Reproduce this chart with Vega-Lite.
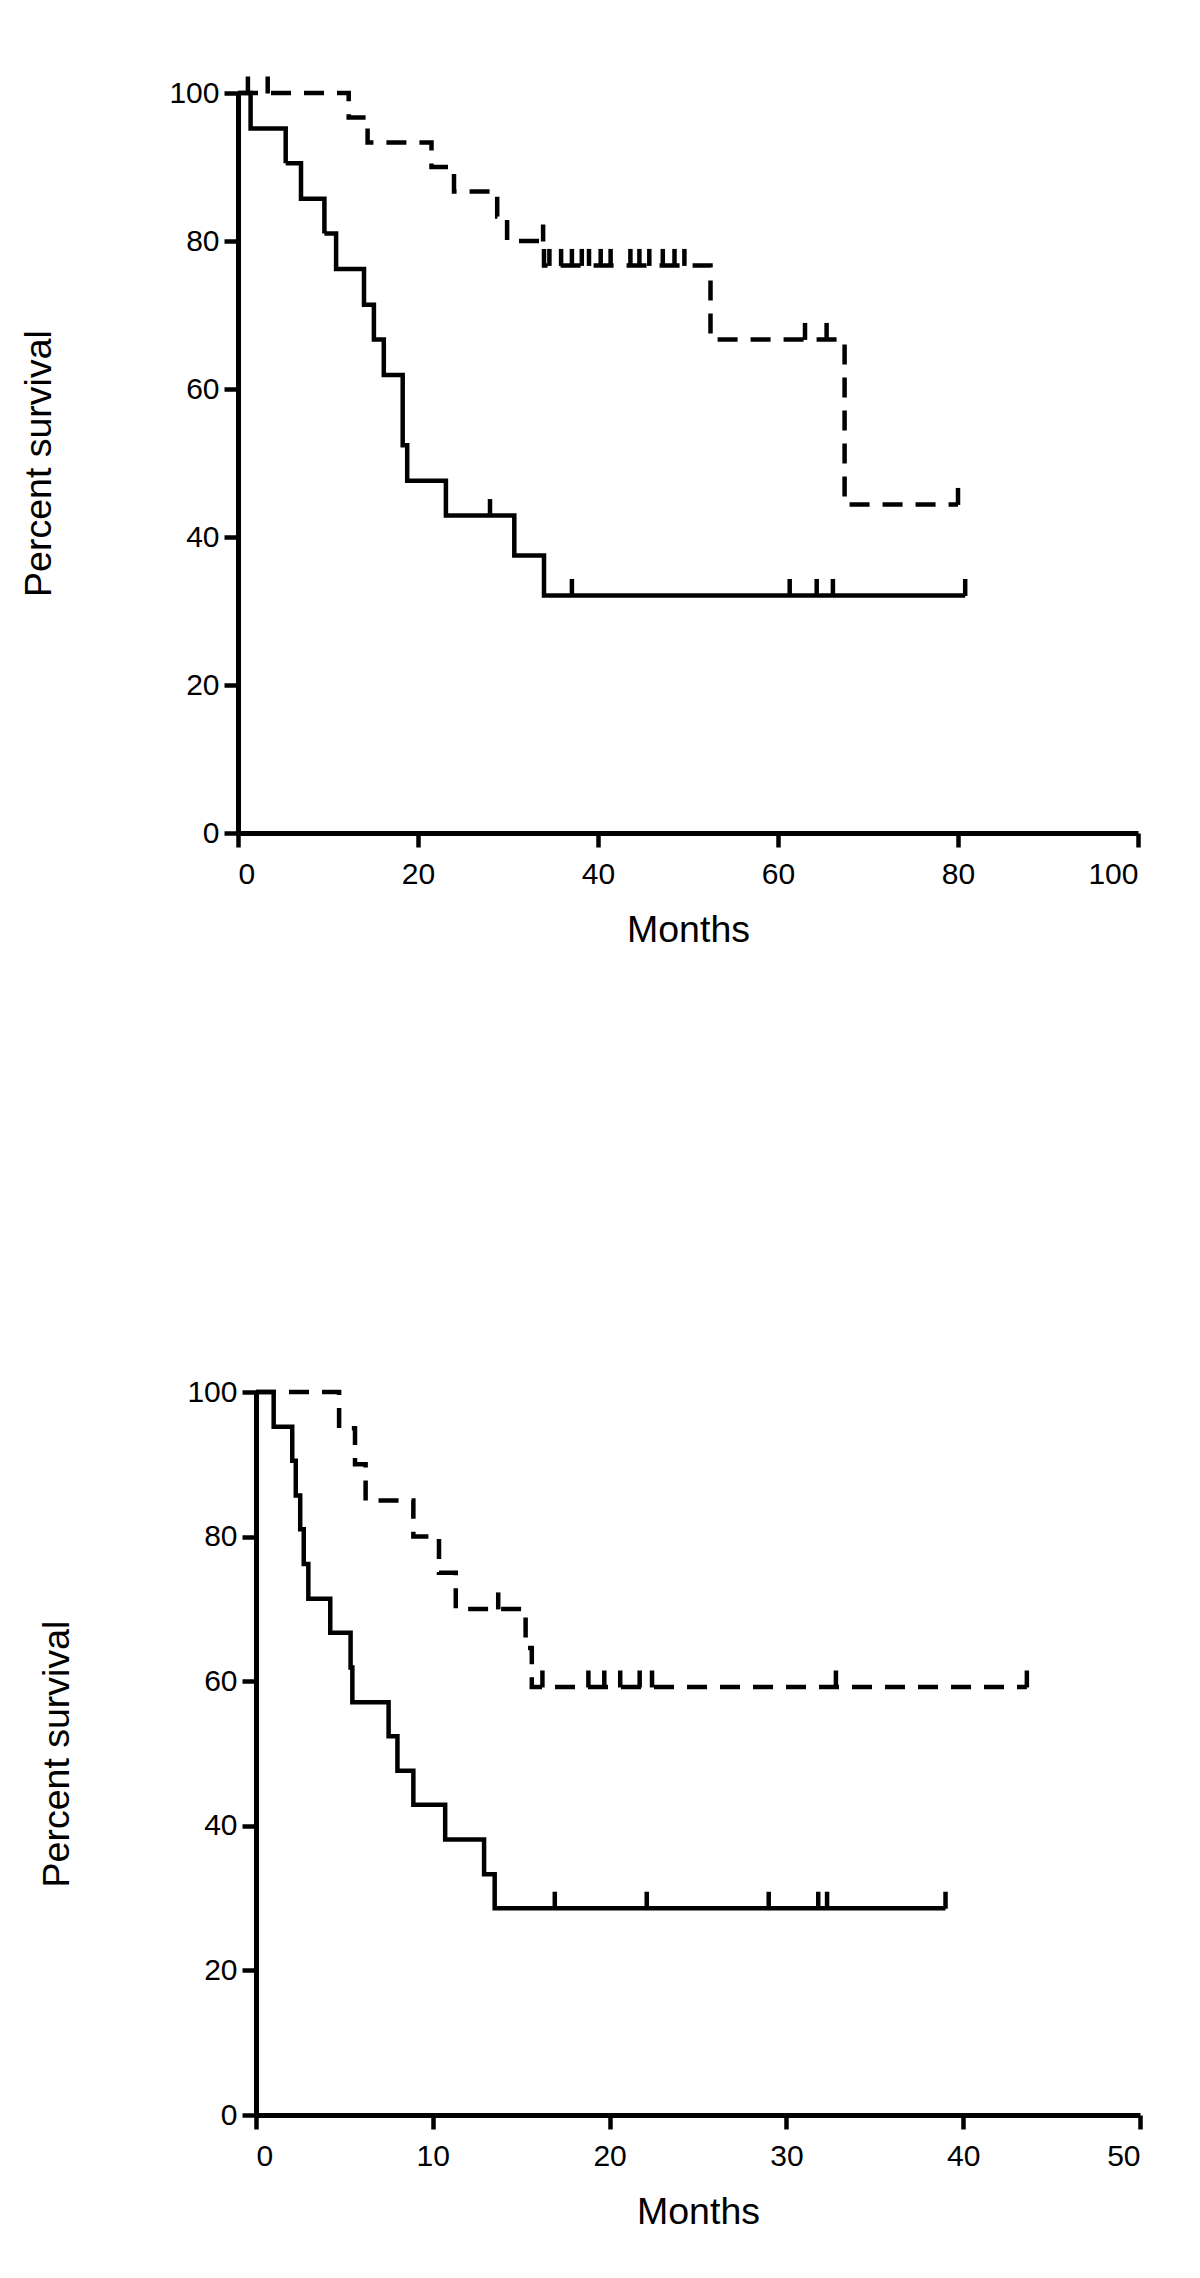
{
  "$schema": "https://vega.github.io/schema/vega-lite/v6.json",
  "background": "white",
  "padding": {"left": 19, "top": 76, "right": 0, "bottom": 0},
  "spacing": 428,
  "config": {
    "view": {"stroke": null},
    "font": "Liberation Sans",
    "axis": {
      "domainColor": "black", "domainWidth": 5, "tickColor": "black", "tickWidth": 4.5, "tickSize": 14,
      "labelColor": "black", "labelFontSize": 30, "labelFont": "Liberation Sans",
      "titleFont": "Liberation Sans", "titleFontSize": 37.5, "titleFontWeight": "normal", "titleColor": "black",
      "grid": false
    },
    "axisX": {"labelPadding": 12, "titlePadding": 22},
    "axisY": {"labelPadding": 5, "titlePadding": 110}
  },
  "datasets": {
    "topCurves": [
      {"g": "A", "t": 0, "s": 100}, {"g": "A", "t": 1.4, "s": 95.2}, {"g": "A", "t": 5.3, "s": 90.5},
      {"g": "A", "t": 7.0, "s": 85.7}, {"g": "A", "t": 9.6, "s": 81.0}, {"g": "A", "t": 10.9, "s": 76.2},
      {"g": "A", "t": 14.0, "s": 71.4}, {"g": "A", "t": 15.1, "s": 66.7}, {"g": "A", "t": 16.2, "s": 61.9},
      {"g": "A", "t": 18.3, "s": 52.4}, {"g": "A", "t": 18.8, "s": 47.6}, {"g": "A", "t": 23.1, "s": 42.9},
      {"g": "A", "t": 30.7, "s": 37.5}, {"g": "A", "t": 34.0, "s": 32.1}, {"g": "A", "t": 80.8, "s": 32.1},
      {"g": "B", "t": 0, "s": 100}, {"g": "B", "t": 12.3, "s": 96.7}, {"g": "B", "t": 14.4, "s": 93.3},
      {"g": "B", "t": 21.5, "s": 90.0}, {"g": "B", "t": 24.0, "s": 86.7}, {"g": "B", "t": 28.8, "s": 83.3},
      {"g": "B", "t": 29.9, "s": 80.0}, {"g": "B", "t": 34.0, "s": 76.7}, {"g": "B", "t": 52.5, "s": 66.7},
      {"g": "B", "t": 67.4, "s": 44.4}, {"g": "B", "t": 80.0, "s": 44.4}
    ],
    "topCensored": [
      {"g": "A", "t": 28.0, "s": 42.9}, {"g": "A", "t": 37.1, "s": 32.1}, {"g": "A", "t": 61.3, "s": 32.1},
      {"g": "A", "t": 64.3, "s": 32.1}, {"g": "A", "t": 66.1, "s": 32.1}, {"g": "A", "t": 80.8, "s": 32.1},
      {"g": "B", "t": 1.1, "s": 100}, {"g": "B", "t": 3.3, "s": 100}, {"g": "B", "t": 33.9, "s": 80.0},
      {"g": "B", "t": 34.6, "s": 76.7}, {"g": "B", "t": 35.9, "s": 76.7}, {"g": "B", "t": 37.1, "s": 76.7},
      {"g": "B", "t": 38.2, "s": 76.7}, {"g": "B", "t": 39.0, "s": 76.7}, {"g": "B", "t": 40.3, "s": 76.7},
      {"g": "B", "t": 41.4, "s": 76.7}, {"g": "B", "t": 43.6, "s": 76.7}, {"g": "B", "t": 44.6, "s": 76.7},
      {"g": "B", "t": 45.7, "s": 76.7}, {"g": "B", "t": 47.2, "s": 76.7}, {"g": "B", "t": 48.5, "s": 76.7},
      {"g": "B", "t": 49.6, "s": 76.7}, {"g": "B", "t": 63.0, "s": 66.7}, {"g": "B", "t": 65.4, "s": 66.7},
      {"g": "B", "t": 80.0, "s": 44.4}
    ],
    "bottomCurves": [
      {"g": "A", "t": 0, "s": 100}, {"g": "A", "t": 1.0, "s": 95.2}, {"g": "A", "t": 2.05, "s": 90.5},
      {"g": "A", "t": 2.25, "s": 85.7}, {"g": "A", "t": 2.5, "s": 81.0}, {"g": "A", "t": 2.7, "s": 76.2},
      {"g": "A", "t": 2.96, "s": 71.4}, {"g": "A", "t": 4.2, "s": 66.7}, {"g": "A", "t": 5.35, "s": 61.9},
      {"g": "A", "t": 5.45, "s": 57.1}, {"g": "A", "t": 7.5, "s": 52.4}, {"g": "A", "t": 8.0, "s": 47.6},
      {"g": "A", "t": 8.9, "s": 42.9}, {"g": "A", "t": 10.7, "s": 38.1}, {"g": "A", "t": 12.9, "s": 33.3},
      {"g": "A", "t": 13.5, "s": 28.6}, {"g": "A", "t": 39.0, "s": 28.6},
      {"g": "B", "t": 0, "s": 100}, {"g": "B", "t": 4.7, "s": 95.0}, {"g": "B", "t": 5.6, "s": 90.0},
      {"g": "B", "t": 6.2, "s": 85.0}, {"g": "B", "t": 8.9, "s": 80.0}, {"g": "B", "t": 10.35, "s": 75.0},
      {"g": "B", "t": 11.3, "s": 70.0}, {"g": "B", "t": 15.25, "s": 64.6}, {"g": "B", "t": 15.6, "s": 59.2},
      {"g": "B", "t": 43.6, "s": 59.2}
    ],
    "bottomCensored": [
      {"g": "A", "t": 16.9, "s": 28.6}, {"g": "A", "t": 22.1, "s": 28.6}, {"g": "A", "t": 29.0, "s": 28.6},
      {"g": "A", "t": 31.8, "s": 28.6}, {"g": "A", "t": 32.3, "s": 28.6}, {"g": "A", "t": 39.0, "s": 28.6},
      {"g": "B", "t": 13.7, "s": 70.0}, {"g": "B", "t": 16.2, "s": 59.2}, {"g": "B", "t": 18.8, "s": 59.2},
      {"g": "B", "t": 19.7, "s": 59.2}, {"g": "B", "t": 20.6, "s": 59.2}, {"g": "B", "t": 21.7, "s": 59.2},
      {"g": "B", "t": 22.4, "s": 59.2}, {"g": "B", "t": 32.8, "s": 59.2}, {"g": "B", "t": 43.6, "s": 59.2}
    ]
  },
  "vconcat": [
    {
      "spacing": 0,
      "hconcat": [
        {
          "width": 1,
          "height": 10,
          "data": {"values": []},
          "mark": {"type": "point", "opacity": 0}
        },
        {
          "width": 900,
          "height": 740,
          "layer": [
            {
              "data": {"name": "topCurves"},
              "mark": {"type": "line", "interpolate": "step-after", "strokeWidth": 4.5, "color": "black", "strokeJoin": "miter"},
              "encoding": {
                "x": {"field": "t", "type": "quantitative", "scale": {"domain": [0, 100], "nice": false},
                      "axis": {"values": [0, 20, 40, 60, 80, 100], "title": "Months"}},
                "y": {"field": "s", "type": "quantitative", "scale": {"domain": [0, 100], "nice": false},
                      "axis": {"values": [0, 20, 40, 60, 80, 100], "title": "Percent survival"}},
                "detail": {"field": "g", "type": "nominal"},
                "strokeDash": {"field": "g", "type": "nominal", "scale": {"domain": ["A", "B"], "range": [[1, 0], [20, 13]]}, "legend": null}
              }
            },
            {
              "data": {"name": "topCensored"},
              "mark": {"type": "tick", "orient": "vertical", "size": 17, "thickness": 4.5, "color": "black", "opacity": 1, "yOffset": -8},
              "encoding": {
                "x": {"field": "t", "type": "quantitative"},
                "y": {"field": "s", "type": "quantitative"}
              }
            }
          ]
        }
      ]
    },
    {
      "spacing": 0,
      "hconcat": [
        {
          "width": 19,
          "height": 10,
          "data": {"values": []},
          "mark": {"type": "point", "opacity": 0}
        },
        {
          "width": 884,
          "height": 723,
          "layer": [
            {
              "data": {"name": "bottomCurves"},
              "mark": {"type": "line", "interpolate": "step-after", "strokeWidth": 4.5, "color": "black", "strokeJoin": "miter"},
              "encoding": {
                "x": {"field": "t", "type": "quantitative", "scale": {"domain": [0, 50], "nice": false},
                      "axis": {"values": [0, 10, 20, 30, 40, 50], "title": "Months"}},
                "y": {"field": "s", "type": "quantitative", "scale": {"domain": [0, 100], "nice": false},
                      "axis": {"values": [0, 20, 40, 60, 80, 100], "title": "Percent survival"}},
                "detail": {"field": "g", "type": "nominal"},
                "strokeDash": {"field": "g", "type": "nominal", "scale": {"domain": ["A", "B"], "range": [[1, 0], [18, 15]]}, "legend": null}
              }
            },
            {
              "data": {"name": "bottomCensored"},
              "mark": {"type": "tick", "orient": "vertical", "size": 17, "thickness": 4.5, "color": "black", "opacity": 1, "yOffset": -8},
              "encoding": {
                "x": {"field": "t", "type": "quantitative"},
                "y": {"field": "s", "type": "quantitative"}
              }
            }
          ]
        }
      ]
    }
  ]
}
